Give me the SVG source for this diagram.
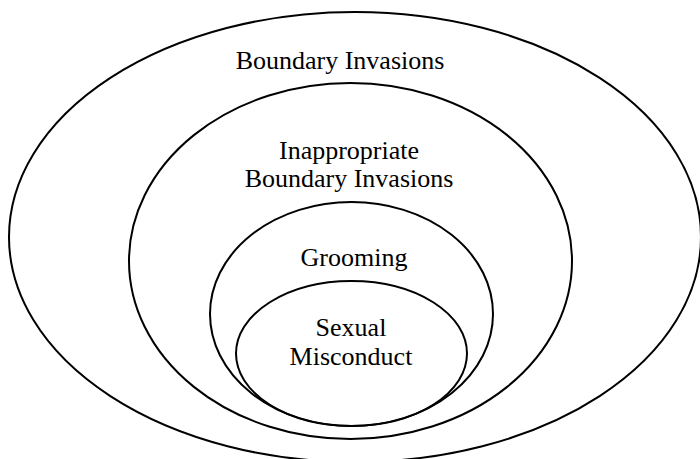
<svg xmlns="http://www.w3.org/2000/svg" width="700" height="459" viewBox="0 0 700 459">
<style>
.e{fill:none;stroke:#000;stroke-width:2}
.t{font-family:"Liberation Serif","Times New Roman",serif;font-size:26px;fill:#000;text-anchor:middle}
</style>
<rect width="700" height="459" fill="#fff"/>
<g id="boundary-invasions">
<ellipse class="e" cx="355" cy="237" rx="346" ry="225"/>
<text class="t" x="340" y="69">Boundary Invasions</text>
</g>
<g id="inappropriate">
<ellipse class="e" cx="350.5" cy="261" rx="221.5" ry="178"/>
<text class="t" x="349" y="159">Inappropriate</text>
<text class="t" x="349" y="187">Boundary Invasions</text>
</g>
<g id="grooming">
<ellipse class="e" cx="351.5" cy="314" rx="141.5" ry="112"/>
<text class="t" x="354" y="266">Grooming</text>
</g>
<g id="sexual-misconduct">
<ellipse class="e" cx="351.5" cy="353.5" rx="115.5" ry="72.5"/>
<text class="t" x="351" y="336">Sexual</text>
<text class="t" x="351" y="365">Misconduct</text>
</g>
<g id="connectors"/>
</svg>
